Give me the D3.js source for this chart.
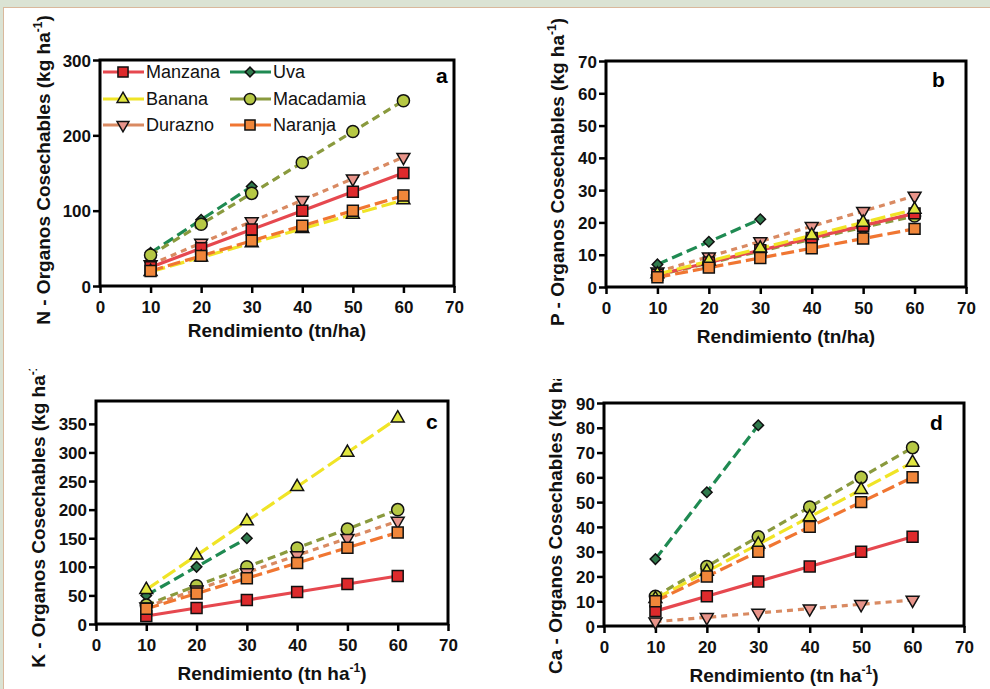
<!DOCTYPE html>
<html>
<head>
<meta charset="utf-8">
<script src="https://cdn.jsdelivr.net/npm/d3@7"></script>
<style>
  body { margin: 0; background: #dbe3d4; }
  svg { display: block; font-family: "Liberation Sans", Arial, sans-serif; }
  .tick text { font-size: 17px; font-weight: bold; fill: #111; }
  .tick line { stroke: #000; stroke-width: 2.5; }
  .axisTitle { font-size: 19px; font-weight: bold; fill: #111; }
  .legendText { font-size: 18px; fill: #111; }
</style>
</head>
<body>
<script>
// species in legend order
var species = ["Manzana", "Uva", "Banana", "Macadamia", "Durazno", "Naranja"];
var yieldTn = [10, 20, 30, 40, 50, 60];
var yieldUva = [10, 20, 30];
var xTicks = [0, 10, 20, 30, 40, 50, 60, 70];

// values per species (same order as species)
var nitrogen = [
    [25, 50, 75, 100, 125, 150],
    [44, 88, 132],
    [19, 38, 57, 76, 95, 114],
    [41, 82, 123, 164, 205, 246],
    [28.5, 57, 85.5, 114, 142.5, 171],
    [20, 40, 60, 80, 100, 120]
];
var phosphorus = [
    [3.8, 7.6, 11.4, 15.2, 19, 22.8],
    [7, 14, 21],
    [4, 8, 12, 16, 20, 24],
    [3.7, 7.4, 11.1, 14.8, 18.5, 22],
    [4.7, 9.4, 14.1, 18.8, 23.5, 28.2],
    [3, 6, 9, 12, 15, 18]
];
var potassium = [
    [14, 28, 42, 56, 70, 84],
    [50, 100, 150],
    [60, 120, 180, 240, 300, 360],
    [33, 67, 100, 133, 166, 200],
    [30, 60, 90, 120, 150, 180],
    [26.7, 53.3, 80, 106.7, 133.3, 160]
];
var calcium = [
    [6, 12, 18, 24, 30, 36],
    [27, 54, 81],
    [11, 22, 33, 44, 55, 66],
    [12, 24, 36, 48, 60, 72],
    [1.75, 3.5, 5.25, 7, 8.75, 10.5],
    [10, 20, 30, 40, 50, 60]
];
var nTicks = [0, 100, 200, 300];
var pTicks = [0, 10, 20, 30, 40, 50, 60, 70];
var kTicks = [0, 50, 100, 150, 200, 250, 300, 350];
var caTicks = [0, 10, 20, 30, 40, 50, 60, 70, 80, 90];

var style = {
    Manzana:   { line: "#e6484f", fill: "#de2a2c", dash: null,   sym: d3.symbolSquare,   size: 120, rot: 0 },
    Uva:       { line: "#1f8a52", fill: "#2f7a4c", dash: "11,5", sym: d3.symbolSquare,   size: 55,  rot: 45 },
    Banana:    { line: "#f0e426", fill: "#e0e640", dash: "15,5", sym: d3.symbolTriangle, size: 72,  rot: 0 },
    Macadamia: { line: "#8a9a3e", fill: "#b6c844", dash: "8,5",  sym: d3.symbolCircle,   size: 115, rot: 0 },
    Durazno:   { line: "#d98a62", fill: "#e8948a", dash: "6,5",  sym: d3.symbolTriangle, size: 72,  rot: 180 },
    Naranja:   { line: "#f07632", fill: "#f0863a", dash: "13,5", sym: d3.symbolSquare,   size: 120, rot: 0 }
};

var svg = d3.select("body").append("svg")
    .attr("width", 990)
    .attr("height", 689);

svg.append("rect")
    .attr("x", 0).attr("y", 0).attr("width", 990).attr("height", 689)
    .attr("fill", "#dbe3d4");
svg.append("rect")
    .attr("x", 3.5).attr("y", 7.5).attr("width", 990).attr("height", 690)
    .attr("fill", "#fff")
    .attr("stroke", "#d9b89c")
    .attr("stroke-width", 1);

var defs = svg.append("defs");

function drawPanel(p) {
    var x = d3.scaleLinear().domain([0, 70]).range([p.x0, p.x1]);
    var y = d3.scaleLinear().domain([0, p.ymax]).range([p.yb, p.yt]);
    var g = svg.append("g");

    g.append("g")
        .attr("transform", `translate(0, ${p.yb})`)
        .call(d3.axisBottom(x).tickValues(xTicks).tickSize(7).tickPadding(8))
        .call(a => a.select(".domain").remove());

    g.append("g")
        .attr("transform", `translate(${p.x0}, 0)`)
        .call(d3.axisLeft(y).tickValues(p.ticks).tickSize(7).tickPadding(2))
        .call(a => a.select(".domain").remove())
        .selectAll("text").attr("dy", "0.36em");

    g.append("rect")
        .attr("x", p.x0).attr("y", p.yt)
        .attr("width", p.x1 - p.x0).attr("height", p.yb - p.yt)
        .attr("fill", "none").attr("stroke", "#000").attr("stroke-width", 3);

    // series lines then markers
    var line = d3.line().x(d => x(d[0])).y(d => y(d[1]));
    var order = [1, 3, 4, 0, 2, 5];
    order.forEach(function(i) {
        var s = style[species[i]];
        var xs = i === 1 ? yieldUva : yieldTn;
        var pts = p.data[i].map((v, j) => [xs[j], v]);
        g.append("path")
            .attr("d", line(pts))
            .attr("fill", "none")
            .attr("stroke", s.line)
            .attr("stroke-width", 3.2)
            .attr("stroke-dasharray", s.dash);
    });
    order.forEach(function(i) {
        var s = style[species[i]];
        var xs = i === 1 ? yieldUva : yieldTn;
        g.selectAll(null)
            .data(p.data[i].map((v, j) => [xs[j], v]))
            .enter()
            .append("path")
            .attr("d", d3.symbol().type(s.sym).size(s.size))
            .attr("transform", d => `translate(${x(d[0])}, ${y(d[1])}) rotate(${s.rot})`)
            .attr("fill", s.fill)
            .attr("stroke", "#111")
            .attr("stroke-width", 1.5);
    });

    g.append("text")
        .attr("x", p.lx).attr("y", p.ly)
        .style("font-size", "21px").style("font-weight", "bold")
        .text(p.letter);

    // x title
    var xt = g.append("text")
        .attr("class", "axisTitle")
        .attr("text-anchor", "middle")
        .attr("x", (p.x0 + p.x1) / 2)
        .attr("y", p.xty);
    if (p.xsup) {
        xt.append("tspan").text("Rendimiento (tn ha");
        xt.append("tspan").attr("dy", -8).style("font-size", "12px").text("-1");
        xt.append("tspan").attr("dy", 8).text(")");
    } else {
        xt.text("Rendimiento (tn/ha)");
    }

    // y title, clipped where the upper panels end
    var clipId = "clip" + p.letter;
    defs.append("clipPath").attr("id", clipId)
        .append("rect").attr("x", 0).attr("y", p.clipTop).attr("width", 990).attr("height", 689);
    var yt = g.append("g")
        .attr("clip-path", `url(#${clipId})`)
        .append("text")
        .attr("class", "axisTitle")
        .attr("text-anchor", "middle")
        .attr("transform", `translate(${p.ytx}, ${p.ytc}) rotate(-90)`);
    yt.append("tspan").text(p.ylabel + " - Organos Cosechables (kg ha");
    yt.append("tspan").attr("dy", -8).style("font-size", "12px").text("-1");
    yt.append("tspan").attr("dy", 8).text(")");

    return { x: x, y: y };
}

drawPanel({ letter: "a", ylabel: "N", data: nitrogen, ticks: nTicks, ymax: 300,
    x0: 100, x1: 454, yt: 60, yb: 286, lx: 436, ly: 83, xty: 337, xsup: false,
    ytx: 50, ytc: 170, clipTop: 8 });
drawPanel({ letter: "b", ylabel: "P", data: phosphorus, ticks: pTicks, ymax: 70,
    x0: 606, x1: 966, yt: 61, yb: 287, lx: 932, ly: 87, xty: 343, xsup: false,
    ytx: 564, ytc: 172, clipTop: 8 });
drawPanel({ letter: "c", ylabel: "K", data: potassium, ticks: kTicks, ymax: 390,
    x0: 96, x1: 448, yt: 401, yb: 624, lx: 426, ly: 429, xty: 680, xsup: true,
    ytx: 45, ytc: 513, clipTop: 369 });
drawPanel({ letter: "d", ylabel: "Ca", data: calcium, ticks: caTicks, ymax: 90,
    x0: 604, x1: 964, yt: 403, yb: 626, lx: 930, ly: 430, xty: 682, xsup: true,
    ytx: 562, ytc: 514, clipTop: 379 });

// legend (panel a)
var legend = svg.append("g");
var legCols = [103, 230];
var legRows = [72, 99, 125];
species.forEach(function(name, i) {
    var s = style[name];
    var cx = legCols[i % 2];
    var cy = legRows[Math.floor(i / 2)];
    legend.append("line")
        .attr("x1", cx).attr("x2", cx + 41)
        .attr("y1", cy).attr("y2", cy)
        .attr("stroke", s.line).attr("stroke-width", 3);
    legend.append("path")
        .attr("d", d3.symbol().type(s.sym).size(s.size * 0.85))
        .attr("transform", `translate(${cx + 20}, ${cy}) rotate(${s.rot})`)
        .attr("fill", s.fill)
        .attr("stroke", "#111")
        .attr("stroke-width", 1.5);
    legend.append("text")
        .attr("class", "legendText")
        .attr("x", cx + 43).attr("y", cy + 6)
        .text(name);
});
</script>
</body>
</html>
